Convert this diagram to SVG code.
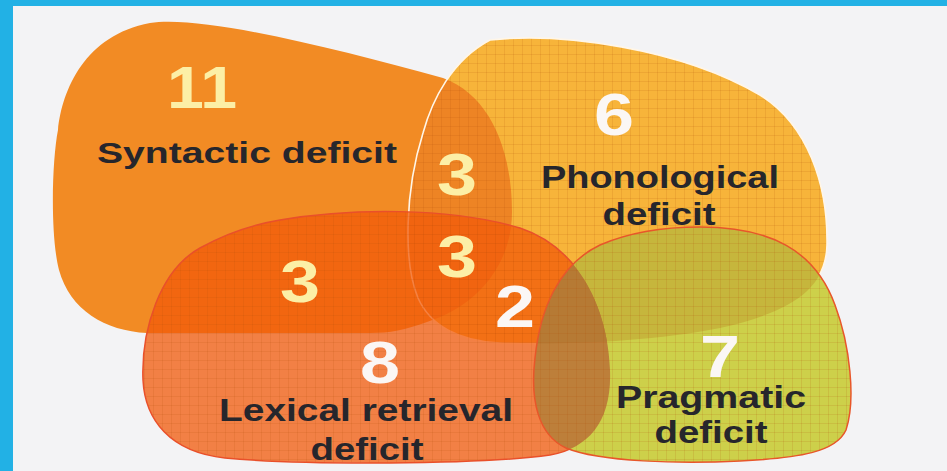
<svg xmlns="http://www.w3.org/2000/svg" xmlns:xlink="http://www.w3.org/1999/xlink" width="947" height="471" viewBox="0 0 947 471">
<style>
.lbl{font-family:"Liberation Sans",Arial,sans-serif;font-weight:bold;fill:#26262c;text-anchor:middle}
.num{font-family:"Liberation Sans",Arial,sans-serif;font-weight:bold;font-size:60px;text-anchor:middle}
.yel{fill:#fcefa6}
.wht{fill:#fbf7f5}
</style>
<defs>
<path id="S" d="M150,23 C205,15 340,50 443,78 C490,95 512,150 512,212 C512,262 480,305 427,322 C405,330 390,333 370,333 L147,333 C105,331 70,310 59,270 C50,235 52,160 58,130 C62,90 85,35 150,23 Z"/>
<path id="P" d="M490,40 C560,32 680,48 760,95 C808,125 828,185 827,245 C826,290 790,312 720,328 C650,342 560,345 500,343 C458,341 430,325 418,298 C403,262 405,190 423,133 C432,100 452,60 490,40 Z"/>
<path id="L" d="M280,220 C350,208 450,207 520,228 C580,248 608,310 610,370 C612,420 590,448 550,455 C480,465 300,465 225,458 C170,452 145,420 143,380 C141,330 160,270 200,248 C225,234 250,225 280,220 Z"/>
<path id="G" d="M700,227 C770,227 815,250 835,305 C850,345 856,400 846,430 C836,452 800,458 740,461 C680,464 600,462 566,448 C538,435 530,400 535,358 C540,310 558,265 600,245 C630,232 665,227 700,227 Z"/>
<clipPath id="clipP"><use xlink:href="#P"/></clipPath>
<clipPath id="clipG"><use xlink:href="#G"/></clipPath>
<pattern id="grid" width="9" height="9" patternUnits="userSpaceOnUse">
<path d="M0,0.5H9M0.5,0V9" fill="none" stroke="#b0500a" stroke-opacity="0.14" stroke-width="1"/>
</pattern>
</defs>
<rect x="0" y="0" width="947" height="471" fill="#f3f3f5"/>
<rect x="0" y="0" width="947" height="6" fill="#22b1e5"/>
<rect x="0" y="0" width="13" height="471" fill="#22b1e5"/>

<g id="syntactic">
<use xlink:href="#S" fill="#f28b24"/>
<text class="num yel" x="202" y="108" textLength="70" lengthAdjust="spacingAndGlyphs">11</text>
<text class="lbl" x="247" y="163" font-size="30" textLength="300" lengthAdjust="spacingAndGlyphs">Syntactic deficit</text>
</g>

<g id="phonological">
<use xlink:href="#P" fill="#f7b43a"/>
<use xlink:href="#S" fill="#ee8424" clip-path="url(#clipP)"/>
<use xlink:href="#P" fill="url(#grid)"/>
<use xlink:href="#P" fill="none" stroke="#fff6e8" stroke-width="1.6"/>
<text class="num wht" x="614" y="135" textLength="40" lengthAdjust="spacingAndGlyphs">6</text>
<text class="lbl" x="660" y="188" font-size="31" textLength="238" lengthAdjust="spacingAndGlyphs">Phonological</text>
<text class="lbl" x="659" y="225" font-size="31" textLength="113" lengthAdjust="spacingAndGlyphs">deficit</text>
</g>

<g id="lexical">
<use xlink:href="#L" fill="#f25a0a" fill-opacity="0.75"/>
<use xlink:href="#L" fill="url(#grid)"/>
<use xlink:href="#L" fill="none" stroke="#e9502a" stroke-width="1.5"/>
<text class="num wht" x="380" y="383" textLength="40" lengthAdjust="spacingAndGlyphs">8</text>
<text class="lbl" x="366" y="421" font-size="32" textLength="294" lengthAdjust="spacingAndGlyphs">Lexical retrieval</text>
<text class="lbl" x="367" y="460" font-size="32" textLength="113" lengthAdjust="spacingAndGlyphs">deficit</text>
</g>

<g id="pragmatic">
<use xlink:href="#G" fill="#cdd04a"/>
<g clip-path="url(#clipG)">
<use xlink:href="#P" fill="#c6b63c"/>
<use xlink:href="#L" fill="#bd7f3a"/>
<use xlink:href="#L" fill="#b67a34" clip-path="url(#clipP)"/>
</g>
<use xlink:href="#G" fill="url(#grid)"/>
<use xlink:href="#G" fill="none" stroke="#e8562a" stroke-width="1.5"/>
<text class="num wht" x="720" y="377" textLength="40" lengthAdjust="spacingAndGlyphs">7</text>
<text class="lbl" x="711" y="408" font-size="31" textLength="190" lengthAdjust="spacingAndGlyphs">Pragmatic</text>
<text class="lbl" x="711" y="443" font-size="31" textLength="113" lengthAdjust="spacingAndGlyphs">deficit</text>
</g>

<g id="intersections">
<text class="num yel" x="457" y="195" textLength="40" lengthAdjust="spacingAndGlyphs">3</text>
<text class="num yel" x="457" y="277" textLength="40" lengthAdjust="spacingAndGlyphs">3</text>
<text class="num yel" x="300" y="302" textLength="40" lengthAdjust="spacingAndGlyphs">3</text>
<text class="num wht" x="515" y="327" textLength="40" lengthAdjust="spacingAndGlyphs">2</text>
</g>
</svg>
